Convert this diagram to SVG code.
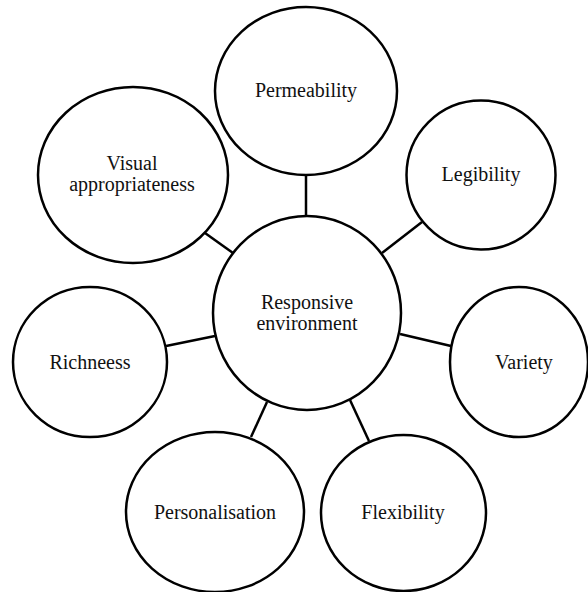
<svg xmlns="http://www.w3.org/2000/svg" width="588" height="592" viewBox="0 0 588 592">
<style>
.n{fill:#fff;stroke:#000;stroke-width:2.5}
.c line{stroke:#000;stroke-width:2.5}
.t{font-size:20px;fill:#111;text-anchor:middle}
</style>
<rect width="588" height="592" fill="#fff"/>
<g id="connectors" class="c">
<line x1="306" y1="175" x2="306" y2="216"/>
<line x1="205" y1="233" x2="233" y2="253"/>
<line x1="382" y1="253" x2="422" y2="222"/>
<line x1="166" y1="346" x2="215" y2="336"/>
<line x1="400" y1="334" x2="451" y2="346"/>
<line x1="267" y1="402" x2="251" y2="437"/>
<line x1="350" y1="400" x2="369" y2="441"/>
</g>
<g font-family="Liberation Serif, DejaVu Serif, serif">
<g id="center"><ellipse class="n" cx="307" cy="313" rx="94" ry="97"/><text class="t" x="307" y="309">Responsive</text><text class="t" x="307" y="330">environment</text></g>
<g id="permeability"><ellipse class="n" cx="306" cy="91" rx="91" ry="84"/><text class="t" x="306" y="97">Permeability</text></g>
<g id="legibility"><ellipse class="n" cx="481" cy="175" rx="74.5" ry="74.5"/><text class="t" x="481" y="181">Legibility</text></g>
<g id="visual"><ellipse class="n" cx="133" cy="175" rx="95" ry="88"/><text class="t" x="132" y="170">Visual</text><text class="t" x="132" y="191">appropriateness</text></g>
<g id="richness"><ellipse class="n" cx="90" cy="362" rx="77" ry="75"/><text class="t" x="90" y="369">Richneess</text></g>
<g id="variety"><ellipse class="n" cx="519" cy="362" rx="69" ry="75"/><text class="t" x="524" y="369">Variety</text></g>
<g id="personalisation"><ellipse class="n" cx="215" cy="512" rx="89" ry="80"/><text class="t" x="215" y="519">Personalisation</text></g>
<g id="flexibility"><ellipse class="n" cx="403.5" cy="513" rx="82.5" ry="78"/><text class="t" x="403" y="519">Flexibility</text></g>
</g>
</svg>
